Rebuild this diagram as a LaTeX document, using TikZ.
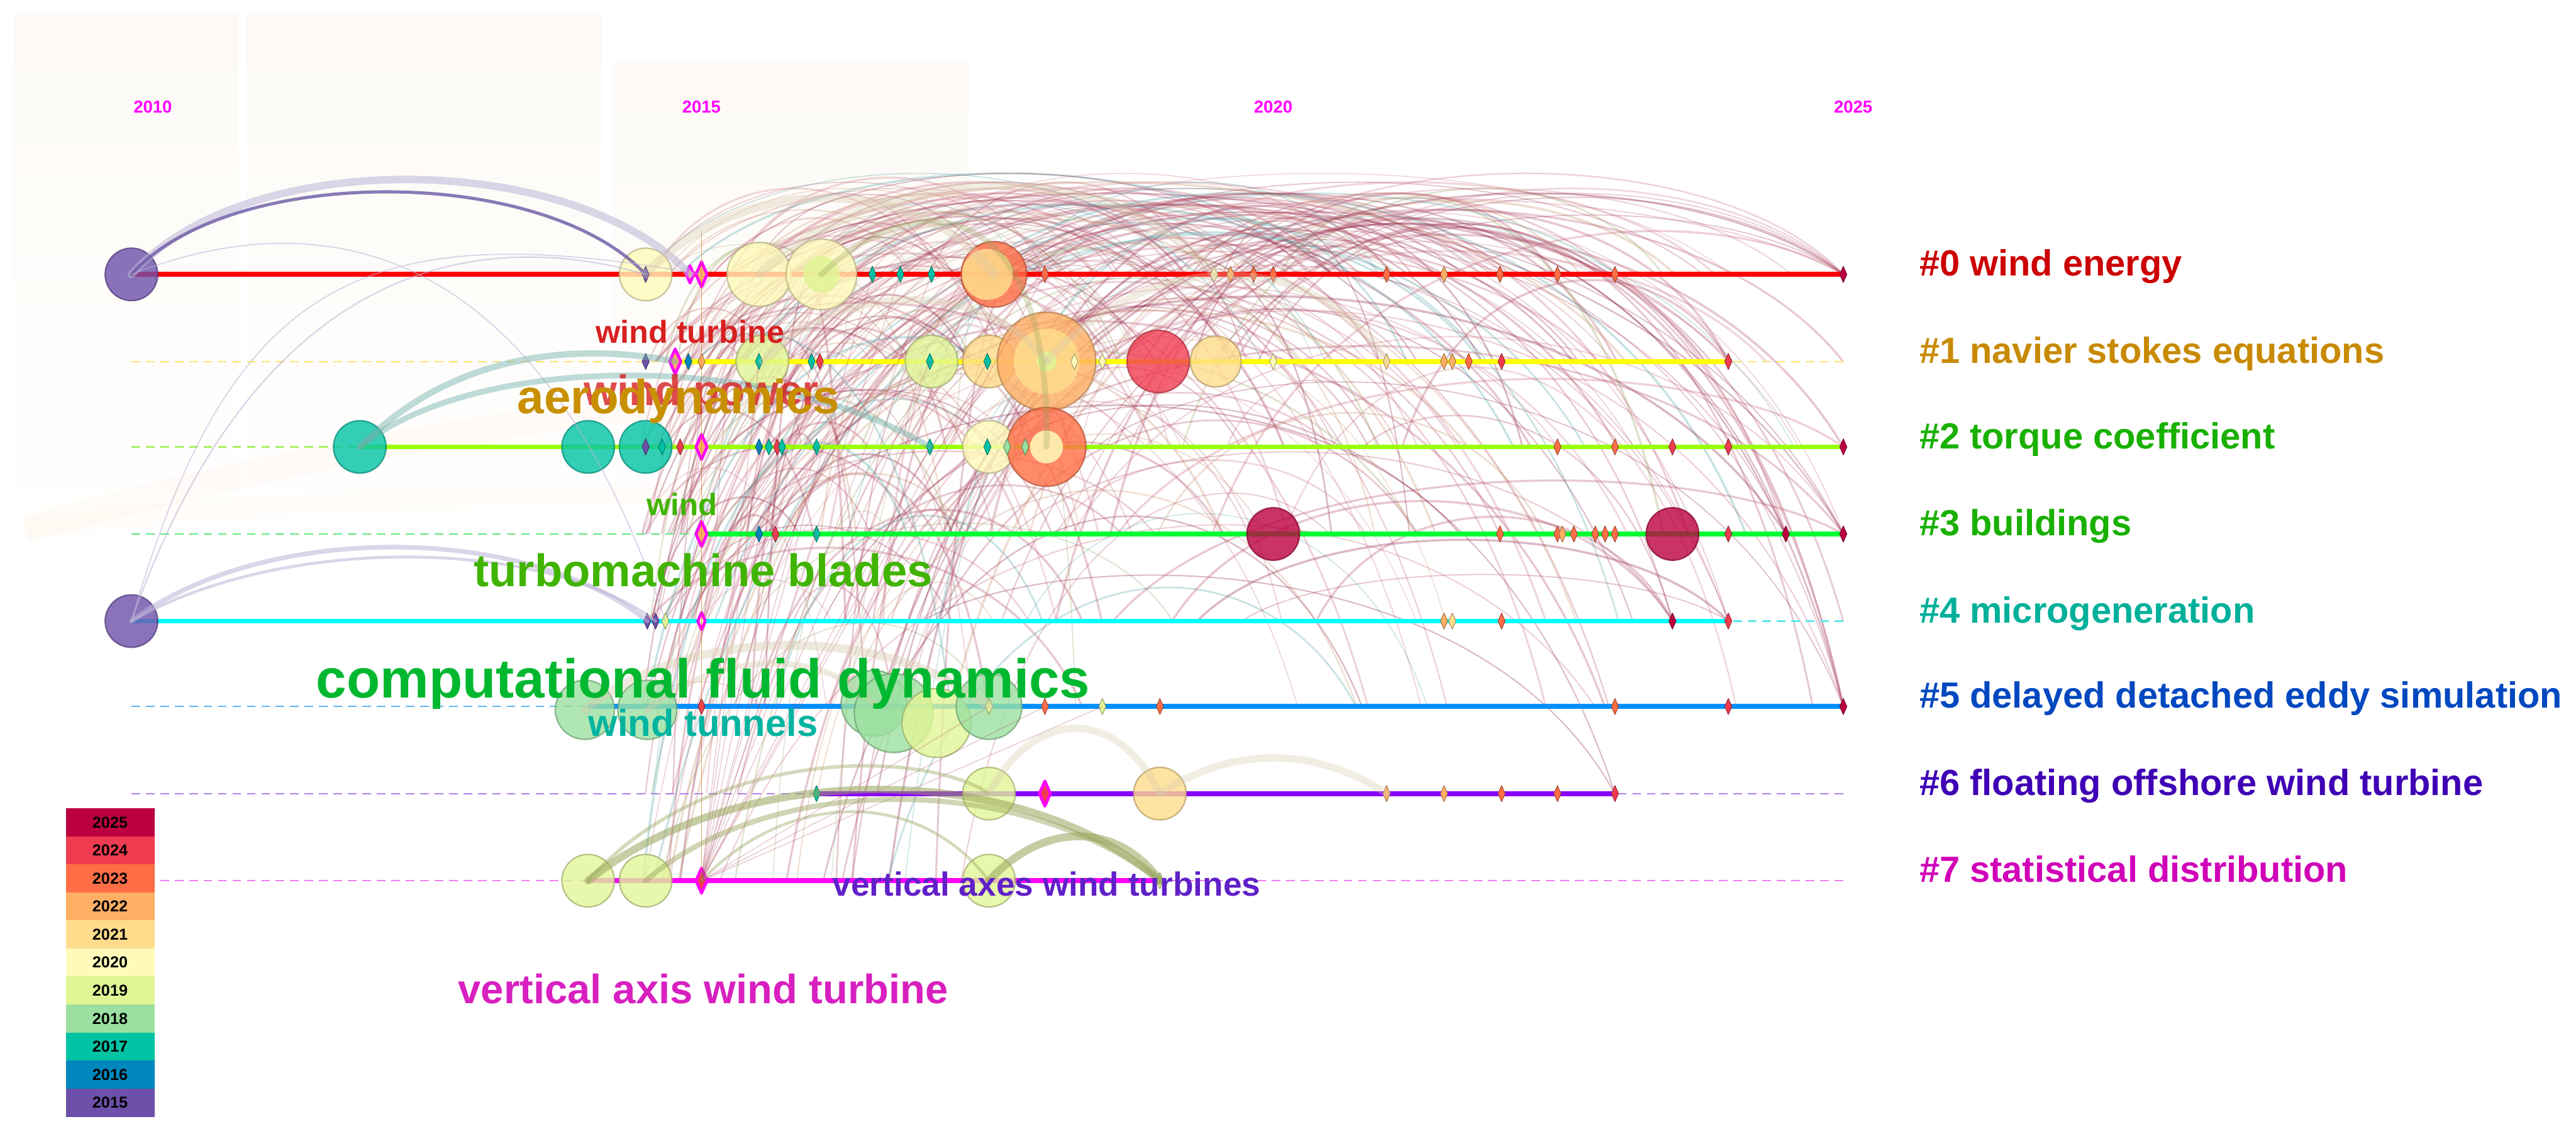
\documentclass[tikz,border=0pt]{standalone}
\usepackage{fontspec}
\setmainfont{Liberation Sans}
\usetikzlibrary{shapes.geometric}
% year colours
\definecolor{y15}{HTML}{6E50AA}
\definecolor{y16}{HTML}{0087BE}
\definecolor{y17}{HTML}{00C3A5}
\definecolor{y18}{HTML}{9BE0A0}
\definecolor{y19}{HTML}{E1F596}
\definecolor{y20}{HTML}{FFFAB9}
\definecolor{y21}{HTML}{FFDC8C}
\definecolor{y22}{HTML}{FFAF64}
\definecolor{y23}{HTML}{FF6E46}
\definecolor{y24}{HTML}{F03C50}
\definecolor{y25}{HTML}{BC0040}
% timeline colours
\definecolor{r0}{HTML}{FF0000}
\definecolor{r1}{HTML}{FFFF00}
\definecolor{r2}{HTML}{99FF00}
\definecolor{r3}{HTML}{00FF33}
\definecolor{r4}{HTML}{00FFFF}
\definecolor{r5}{HTML}{0090FF}
\definecolor{r6}{HTML}{8800FF}
\definecolor{r7}{HTML}{FF00FF}
\definecolor{dr0}{HTML}{FF6060}
\definecolor{dr1}{HTML}{FFE070}
\definecolor{dr2}{HTML}{A8F060}
\definecolor{dr3}{HTML}{60E880}
\definecolor{dr4}{HTML}{60E8E8}
\definecolor{dr5}{HTML}{60B8F0}
\definecolor{dr6}{HTML}{B080F0}
\definecolor{dr7}{HTML}{F080F0}
% label colours
\definecolor{k0}{HTML}{CC0000}
\definecolor{k1}{HTML}{C88A00}
\definecolor{k2}{HTML}{19B000}
\definecolor{k3}{HTML}{19B000}
\definecolor{k4}{HTML}{00B09A}
\definecolor{k5}{HTML}{0048C0}
\definecolor{k6}{HTML}{3F00B5}
\definecolor{k7}{HTML}{D000B8}
\definecolor{kwt}{HTML}{D72020}
\definecolor{kaero}{HTML}{C89000}
\definecolor{kwind}{HTML}{40B400}
\definecolor{kcfd}{HTML}{00B830}
\definecolor{ktun}{HTML}{00B4A0}
\definecolor{kaxes}{HTML}{6020C8}
\definecolor{kaxis}{HTML}{D820C0}
\definecolor{bgp}{HTML}{FDFAF5}
% link colours
\definecolor{lk1}{HTML}{B04A64}
\definecolor{lk2}{HTML}{B04A64}
\definecolor{lk3}{HTML}{C86478}
\definecolor{lk4}{HTML}{8A1A40}
\definecolor{lk5}{HTML}{C8906A}
\definecolor{lk6}{HTML}{98A060}
\definecolor{lk7}{HTML}{4AA0A8}
\definecolor{lk8}{HTML}{D08090}
\definecolor{lav}{HTML}{6A5AA4}
\definecolor{lavl}{HTML}{BCB4D8}
\definecolor{olv}{HTML}{98A45C}
\definecolor{beig}{HTML}{D8CCAE}
\definecolor{tealk}{HTML}{70B0A8}

\tikzset{
  tl/.style={line width=1.7pt},
  dl/.style={line width=0.5pt, dash pattern=on 3pt off 2pt},
  bub/.style 2 args={circle, inner sep=0pt, minimum size=#2*0.04cm, fill=#1,
    draw=#1!70!black, fill opacity=0.8, draw opacity=0.7, line width=0.5pt},
  inb/.style 2 args={circle, inner sep=0pt, minimum size=#2*0.04cm, fill=#1,
    fill opacity=0.85},
  dia/.style={diamond, inner sep=0pt, minimum width=0.09cm, minimum height=0.2cm,
    fill=#1, draw=#1!60!black, line width=0.2pt},
  burst/.style 2 args={diamond, inner sep=0pt, minimum width=#2*0.15cm,
    minimum height=#2*0.32cm, fill=#1, draw=r7, line width=1pt},
  lab/.style={font=\bfseries\fontsize{#1}{#1}\selectfont, inner sep=0pt},
  leg/.style={rectangle, inner sep=0pt, minimum width=1.08cm, minimum height=0.343cm,
    font=\bfseries\fontsize{5.5}{6}\selectfont, text=black},
  arc/.style={line cap=round, opacity=0.55},
}

\begin{document}
\begin{tikzpicture}[x=0.02cm,y=-0.02cm,line join=round]
\useasboundingbox (0,0) rectangle (1568,687);
\fill[white] (0,0) rectangle (1568,687);

% faint panels
\shade[top color=bgp, bottom color=white] (8,8) rectangle (145,330);
\shade[top color=bgp, bottom color=white] (150,8) rectangle (366,330);
\shade[top color=bgp, bottom color=white] (373,38) rectangle (590,330);
\draw[line width=9pt, orange!10, opacity=0.25] (15,322) .. controls (150,285) and (300,255) .. (427,245);
\draw[line width=7pt, orange!10, opacity=0.2] (15,322) .. controls (150,305) and (300,300) .. (427,300);

% years
\foreach \yr/\x in {2010/93,2015/427,2020/775,2025/1128}
  \node[lab=6, text=r7] (yr\yr) at (\x,65) {\yr};

% citation links
\pgfmathsetseed{31}
\foreach \i in {1,...,230}{
  \pgfmathtruncatemacro\ra{{0,0,1,1,2,2,3,3,4,5,6,7}[random(0,11)]}
  \pgfmathtruncatemacro\rb{{0,0,0,1,1,2,2,3,3,4,5}[random(0,10)]}
  \pgfmathsetmacro\xa{390+(\ra>3 ? 300 : 440)*rnd*rnd}
  \pgfmathsetmacro\xb{min(\xa+30+520*rnd,1122)}
  \pgfmathsetmacro\ya{{167,220,272,325,378,430,483,536}[\ra]}
  \pgfmathsetmacro\yb{{167,220,272,325,378,430,483,536}[\rb]}
  \pgfmathsetmacro\yt{max(min(\ya,\yb)-(0.2+0.4*rnd)*(\xb-\xa),85)}
  \pgfmathsetmacro\xc{\xa+0.2*(\xb-\xa)}
  \pgfmathsetmacro\xd{\xb-0.2*(\xb-\xa)}
  \pgfmathtruncatemacro\kk{random(1,8)}
  \pgfmathsetmacro\lw{0.25+0.55*rnd}
  \draw[lk\kk, line width=\lw pt, opacity=0.3] (\xa,\ya) .. controls (\xc,\yt) and (\xd,\yt) .. (\xb,\yb);
}
\foreach \i in {1,...,40}{
  \pgfmathtruncatemacro\kk{random(0,8)}
  \pgfmathsetmacro\xb{{1122,1122,1122,1052,1052,1018,983,1122,1087}[\kk]}
  \pgfmathsetmacro\yb{{325,272,430,220,378,378,483,167,325}[\kk]}
  \pgfmathsetmacro\xa{430+450*rnd}
  \pgfmathtruncatemacro\ra{random(0,4)}
  \pgfmathsetmacro\ya{{167,220,272,325,378,430,483,536}[\ra]}
  \pgfmathsetmacro\yt{max(min(\ya,\yb)-(0.1+0.3*rnd)*(\xb-\xa),85)}
  \pgfmathsetmacro\xc{\xa+0.2*(\xb-\xa)}
  \pgfmathsetmacro\xd{\xb-0.2*(\xb-\xa)}
  \pgfmathtruncatemacro\cc{random(1,4)}
  \pgfmathsetmacro\lw{0.3+0.5*rnd}
  \draw[lk\cc, line width=\lw pt, opacity=0.3] (\xa,\ya) .. controls (\xc,\yt) and (\xd,\yt) .. (\xb,\yb);
}

% timelines
\foreach \rw/\yy/\sa/\sb in {0/167/80/1122,1/220/410/1052,2/272/219/1122,3/325/427/1122,
    4/378/80/1052,5/430/358/1122,6/483/497/983,7/536/358/705}{
  \draw[dl, dr\rw] (80,\yy) -- (1122,\yy);
  \draw[tl, r\rw] (\sa,\yy) -- (\sb,\yy);
}

% cluster labels
\foreach \rw/\yy/\txt in {0/167/{\#0 wind energy},1/220/{\#1 navier stokes equations},
    2/272/{\#2 torque coefficient},3/325/{\#3 buildings},4/378/{\#4 microgeneration},
    5/430/{\#5 delayed detached eddy simulation},6/483/{\#6 floating offshore wind turbine},
    7/536/{\#7 statistical distribution}}
  \node[lab=12.6, text=k\rw, anchor=base west] (cl\rw) at (1168,\yy+1) {\txt};

% bubbles
\foreach \x/\yy/\rr/\cc in {80/167/16/y15,393/167/16/y20,462/167/19.5/y20,500/167/21.5/y20,605/167/20/y23,
    464/220/16/y19,567/220/16/y19,602/220/16/y21,637/220/30/y22,705/220/19/y24,740/220/15.5/y21,
    219/272/16/y17,358/272/16/y17,393/272/16/y17,602/272/16/y20,637/272/24/y23,
    775/325/16/y25,1018/325/16/y25,80/378/16/y15,
    356/432/18/y18,394/432/18/y18,532/428/20/y18,544/434/24/y18,570/440/21/y19,602/430/20/y18,
    602/483/16/y19,706/483/16/y21,358/536/16/y19,393/536/16/y19,602/536/16/y19}
  \node[bub={\cc}{\rr}] (b\x-\yy) at (\x,\yy) {};
\foreach \x/\yy/\rr/\cc [count=\n] in {500/167/11/y19,601/167/15.5/y21,637/220/20/y21,637/220/6/y19,637/272/10/y20}
  \node[inb={\cc}{\rr}] (in\n) at (\x,\yy) {};

% small markers
\foreach \yy/\lst in {
    167/{393/y15,531/y17,548/y17,567/y17,636/y23,739/y20,749/y22,763/y23,775/y23,844/y23,879/y22,913/y23,948/y23,983/y23,1122/y25},
    220/{393/y15,419/y16,427/y22,462/y17,494/y17,499/y24,566/y17,601/y17,654/y20,671/y20,775/y20,844/y21,879/y22,884/y22,894/y23,914/y24,1052/y24},
    272/{393/y15,403/y17,414/y24,462/y16,468/y17,473/y24,476/y17,497/y17,566/y17,601/y17,613/y18,624/y18,948/y23,983/y23,1018/y24,1052/y24,1122/y25},
    325/{462/y16,472/y24,497/y17,913/y23,948/y23,951/y22,958/y23,971/y23,977/y23,983/y23,1052/y24,1087/y25,1122/y25},
    378/{394/y15,399/y15,405/y19,879/y22,884/y21,914/y23,1018/y25,1052/y24},
    430/{427/y24,602/y19,636/y23,671/y19,706/y23,983/y23,1052/y24,1122/y25},
    483/{497/y17,844/y22,879/y22,914/y23,948/y23,983/y24},
    536/{706/y19}}
  \foreach \x/\cc in \lst
    \node[dia=\cc] (d\x-\yy) at (\x,\yy) {};
\foreach \x/\yy/\cc/\s in {420/167/y22/0.7,427/167/y22/1,411/220/y22/1,427/272/y22/1,427/325/y22/1,
    427/378/y20/0.7,636/483/y24/1,427/536/y24/1}
  \node[burst={\cc}{\s}] (m\x-\yy) at (\x,\yy) {};

% fan from the 2015 burst on #7
\foreach \t in {d531-167,d548-167,d567-167,d636-167,d462-220,d494-220,d566-220,d601-220,
    d462-272,d497-272,d566-272,d462-325,d497-325,d602-430,d636-430,d671-430}
  \draw[lk1, line width=0.3pt, opacity=0.3] (m427-536.center) -- (\t.center);

% strong links
\coordinate (vt) at (427,140);
\draw[brown!70!orange, line width=0.4pt, opacity=0.7] (vt) -- (m427-536.center);
\draw[arc, lavl, line width=2.6pt] (b80-167.center) .. controls (150,88) and (350,92) .. (m420-167.center);
\draw[arc, lav, line width=1.1pt, opacity=0.8] (b80-167.center) .. controls (140,100) and (330,100) .. (b393-167.center);
\draw[arc, lavl, line width=0.5pt] (b80-378.center) .. controls (160,150) and (300,140) .. (b393-167.center);
\draw[arc, lavl, line width=0.4pt] (b80-378.center) .. controls (140,170) and (220,130) .. (m427-167.center);
\draw[arc, lavl, line width=0.4pt] (b80-167.center) .. controls (200,120) and (330,150) .. (d405-378.center);
\draw[arc, lavl, line width=1.6pt] (b80-378.center) .. controls (160,318) and (320,318) .. (d394-378.center);
\draw[arc, lavl, line width=1pt] (b80-378.center) .. controls (170,326) and (330,326) .. (d399-378.center);
\draw[arc, tealk, line width=2.2pt, opacity=0.45] (b219-272.center) .. controls (280,210) and (360,210) .. (m411-220.center);
\draw[arc, tealk, line width=2pt, opacity=0.45] (b219-272.center) .. controls (290,214) and (470,214) .. (d566-272.center);
\draw[arc, olv, line width=2.6pt] (b358-536.center) .. controls (450,462) and (620,462) .. (d706-536.center);
\draw[arc, olv, line width=1.8pt, opacity=0.45] (b393-536.center) .. controls (470,470) and (620,470) .. (d706-536.center);
\draw[arc, olv, line width=2.7pt] (b602-536.center) .. controls (635,500) and (680,500) .. (d706-536.center);
\draw[arc, olv, line width=1.2pt, opacity=0.4] (b358-536.center) .. controls (430,455) and (560,455) .. (b602-483.center);
\draw[arc, olv, line width=1pt, opacity=0.4] (m427-536.center) .. controls (480,480) and (560,480) .. (b602-536.center);
\draw[arc, beig, line width=2.5pt, opacity=0.35] (b602-483.center) .. controls (630,430) and (680,430) .. (b706-483.center);
\draw[arc, beig, line width=2.5pt, opacity=0.35] (b706-483.center) .. controls (750,454) and (800,454) .. (d844-483.center);
\draw[arc, beig, line width=3pt, opacity=0.4] (b356-432.center) .. controls (420,380) and (540,380) .. (b602-430.center);
\draw[arc, beig, line width=2pt, opacity=0.4] (b394-432.center) .. controls (440,395) and (500,395) .. (b532-428.center);
\draw[arc, beig, line width=3pt, opacity=0.35] (b393-167.center) .. controls (450,105) and (560,105) .. (b605-167.center);
\draw[arc, beig, line width=3pt, opacity=0.35] (b462-167.center) .. controls (540,95) and (680,95) .. (d739-167.center);
\draw[arc, beig, line width=2.5pt, opacity=0.35] (b464-220.center) .. controls (510,170) and (600,170) .. (b637-220.center);
\draw[arc, beig, line width=2.5pt, opacity=0.35] (b637-220.center) .. controls (700,150) and (800,150) .. (d844-220.center);
\draw[arc, olv, line width=2pt, opacity=0.3] (b500-167.center) .. controls (560,110) and (640,120) .. (b637-272.center);

% keyword labels
\node[lab=11, text=kwt] (kwturb) at (420,202) {wind turbine};
\node[lab=14.8, text=kwt, opacity=0.8] (kwpow) at (427,240) {wind power};
\node[lab=16.6, text=kaero] (kaero) at (413,244) {aerodynamics};
\node[lab=10.7, text=kwind] (kwind) at (415,307) {wind};
\node[lab=15.8, text=kwind] (kblade) at (428,347) {turbomachine blades};
\node[lab=19, text=kcfd] (kcfd) at (428,416) {computational fluid dynamics};
\node[lab=13, text=ktun] (ktun) at (428,440) {wind tunnels};
\node[lab=11.6, text=kaxes] (kaxes) at (637,538) {vertical axes wind turbines};
\node[lab=14.2, text=kaxis] (kaxis) at (428,602) {vertical axis wind turbine};

% legend
\foreach \yr [count=\n from 0] in {25,24,23,22,21,20,19,18,17,16,15}
  \node[leg, fill=y\yr] (lg\yr) at (67,{500.5+17.06*\n}) {20\yr};
\end{tikzpicture}
\end{document}
